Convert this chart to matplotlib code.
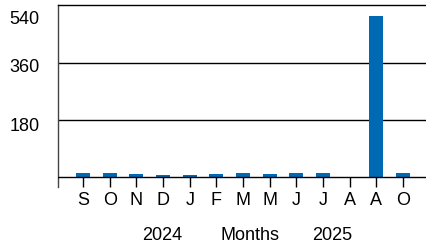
import matplotlib
matplotlib.use("Agg")
import matplotlib.pyplot as plt
from matplotlib.transforms import ScaledTranslation

months = ["S", "O", "N", "D", "J", "F", "M", "M", "J", "J", "A", "A", "O"]
values = [15, 12, 9, 6, 6, 9, 15, 9, 15, 15, 0, 505, 15]
yticks = [180, 360, 540]
years = ["2024", "2025"]
xlabel = "Months"

plt.rcParams['font.family'] = ['Liberation Sans', 'DejaVu Sans']
FS = 13

fig = plt.figure(figsize=(4.27, 2.45), dpi=100)
ax = fig.add_axes([57.5/427, 1-187/245, 1-57.5/427, (187-5.3)/245])

x = list(range(len(months)))
ax.bar(x, values, width=0.52, color='#0069b4', zorder=3)
ax.set_xlim(-0.96, 12.9)
ax.set_ylim(-30.4, 540)

ax.axhline(0, color='black', lw=1, zorder=4)
for v in yticks[:-1]:
    ax.axhline(v, color='black', lw=1, zorder=1)

ax.spines['right'].set_visible(False)
ax.spines['bottom'].set_visible(False)
ax.spines['top'].set_color('black')
ax.spines['top'].set_linewidth(1)
ax.spines['left'].set_color('#444444')
ax.spines['left'].set_linewidth(1)

ax.set_xticks(x)
ax.set_xticklabels(months, fontsize=FS)
ax.tick_params(axis='x', direction='in', length=7.2, width=1, color='black', pad=3.5)

ax.set_yticks(yticks)
ax.set_yticklabels([str(v) for v in yticks], fontsize=FS)
ax.tick_params(axis='y', length=0, pad=13)
offsets = {180: -4.5, 360: -3, 540: -12}
for lab, v in zip(ax.get_yticklabels(), yticks):
    lab.set_transform(lab.get_transform() + ScaledTranslation(0, offsets[v]/100, fig.dpi_scale_trans))

fig.text(161.7/427, 1-235/245, years[0], ha='center', va='center', fontsize=FS)
fig.text(250/427, 1-235/245, xlabel, ha='center', va='center', fontsize=FS)
fig.text(331.7/427, 1-235/245, years[1], ha='center', va='center', fontsize=FS)

fig.savefig("out.png", dpi=100)
